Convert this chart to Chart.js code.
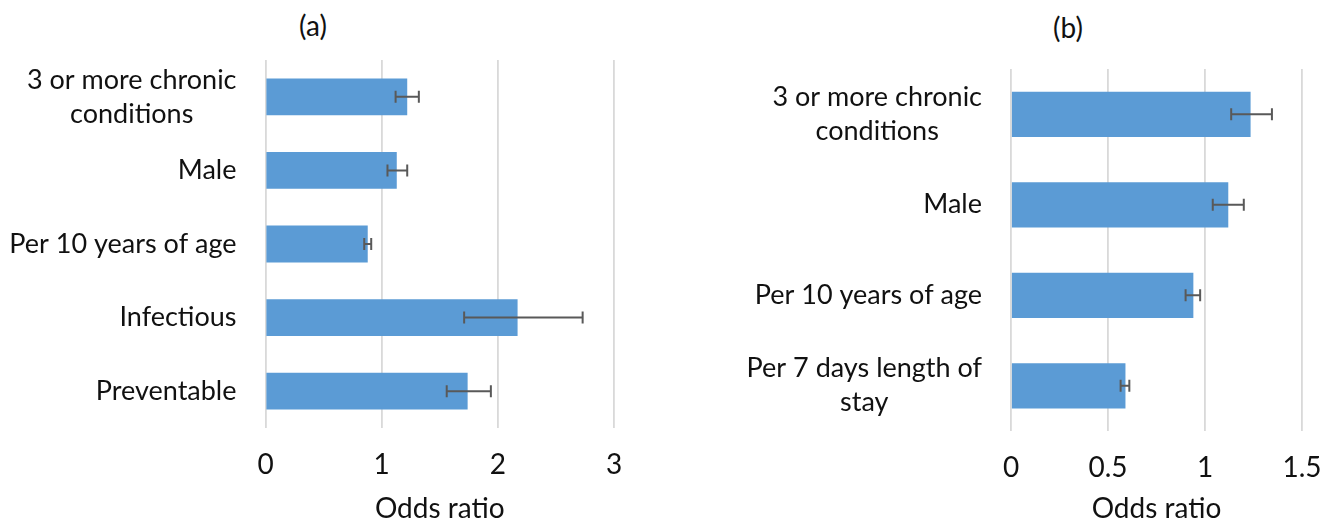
<!DOCTYPE html>
<html>
<head>
<meta charset="utf-8">
<script src="https://cdn.jsdelivr.net/npm/chart.js@4.4.0/dist/chart.umd.min.js"></script>
<style>
  html, body { margin: 0; padding: 0; background: #fff; }
  body { width: 1335px; height: 527px; position: relative; overflow: hidden; font-family: Lato, sans-serif; }
  .box { position: absolute; top: 0; height: 527px; }
  .ttl { position: absolute; font-size: 28px; color: #111; transform: translate(-50%, -50%); white-space: nowrap; }
</style>
</head>
<body>
<div class="ttl" style="left:313px; top:25px;">(a)</div>
<div class="ttl" style="left:1068px; top:27px;">(b)</div>
<div class="box" style="left:0; width:626px;"><canvas id="chartA"></canvas></div>
<div class="box" style="left:640px; width:695px;"><canvas id="chartB"></canvas></div>
<script>
// panel (a)
const labelsA = [['3 or more chronic', 'conditions'], 'Male', 'Per 10 years of age', 'Infectious', 'Preventable'];
const oddsA = [1.22, 1.13, 0.88, 2.17, 1.74];
const lowA = [1.12, 1.05, 0.85, 1.71, 1.56];
const highA = [1.32, 1.22, 0.91, 2.73, 1.94];
const ticksA = [0, 1, 2, 3];

// panel (b)
const labelsB = [['3 or more chronic', 'conditions'], 'Male', 'Per 10 years of age', ['Per 7 days length of', 'stay']];
const oddsB = [1.235, 1.12, 0.94, 0.59];
const lowB = [1.135, 1.04, 0.90, 0.565];
const highB = [1.345, 1.20, 0.975, 0.61];
const ticksB = [0, 0.5, 1, 1.5];

const FONT = 'Lato';
const TEXT = '#111';

// error bars (drawn through the chart's own scales)
const errorBars = {
    id: 'errorBars',
    afterDatasetsDraw(chart, args, opts) {
        const { ctx, scales: { x, y } } = chart;
        ctx.save();
        ctx.strokeStyle = '#595959';
        ctx.lineWidth = 2;
        opts.low.forEach((lo, i) => {
            const cy = y.getPixelForValue(i);
            const x1 = x.getPixelForValue(lo);
            const x2 = x.getPixelForValue(opts.high[i]);
            const h = 6;
            ctx.beginPath();
            ctx.moveTo(x1, cy); ctx.lineTo(x2, cy);
            ctx.moveTo(x1, cy - h); ctx.lineTo(x1, cy + h);
            ctx.moveTo(x2, cy - h); ctx.lineTo(x2, cy + h);
            ctx.stroke();
        });
        ctx.restore();
    }
};

// category labels: block right-aligned, lines centred inside the block
const catLabels = {
    id: 'catLabels',
    afterDraw(chart, args, opts) {
        const { ctx, scales: { y } } = chart;
        ctx.save();
        ctx.font = '27px ' + FONT;
        ctx.fillStyle = TEXT;
        ctx.textAlign = 'center';
        ctx.textBaseline = 'middle';
        chart.data.labels.forEach((lab, i) => {
            const lines = Array.isArray(lab) ? lab : [lab];
            const w = Math.max(...lines.map(l => ctx.measureText(l).width));
            const cx = y.right - opts.gap - w / 2;
            const cy = y.getPixelForValue(i);
            lines.forEach((l, j) => {
                ctx.fillText(l, cx, cy + (j - (lines.length - 1) / 2) * 34);
            });
        });
        ctx.restore();
    }
};

function makeChart(id, labels, odds, low, high, ticks, yWidth, xHeight, pad) {
    return new Chart(document.getElementById(id).getContext('2d'), {
        type: 'bar',
        data: {
            labels: labels,
            datasets: [{
                data: odds,
                backgroundColor: '#5B9BD5',
                categoryPercentage: 0.5,
                barPercentage: 1
            }]
        },
        options: {
            indexAxis: 'y',
            responsive: true,
            maintainAspectRatio: false,
            animation: false,
            layout: { padding: pad },
            plugins: {
                legend: { display: false },
                tooltip: { enabled: false },
                errorBars: { low: low, high: high },
                catLabels: { gap: 29 }
            },
            scales: {
                x: {
                    min: ticks[0],
                    max: ticks[ticks.length - 1],
                    afterBuildTicks: s => { s.ticks = ticks.map(v => ({ value: v })); },
                    afterFit: s => { s.height = xHeight; s.paddingLeft = 0; s.paddingRight = 0; },
                    grid: { color: '#D9D9D9', lineWidth: 1.8, drawTicks: false },
                    border: { display: false },
                    ticks: { color: TEXT, font: { family: FONT, size: 28 }, padding: 20, callback: v => String(v) },
                    title: {
                        display: true,
                        text: 'Odds ratio',
                        color: TEXT,
                        font: { family: FONT, size: 28 },
                        padding: { top: 0, bottom: 1 }
                    }
                },
                y: {
                    afterFit: s => { s.width = yWidth; },
                    grid: { display: false },
                    border: { display: false },
                    ticks: { display: false }
                }
            }
        },
        plugins: [errorBars, catLabels]
    });
}

makeChart('chartA', labelsA, oddsA, lowA, highA, ticksA, 265.5, 99, { top: 60, right: 12, left: 0, bottom: 0 });
makeChart('chartB', labelsB, oddsB, lowB, highB, ticksB, 371, 96, { top: 69, right: 33, left: 0, bottom: 0 });
</script>
</body>
</html>
